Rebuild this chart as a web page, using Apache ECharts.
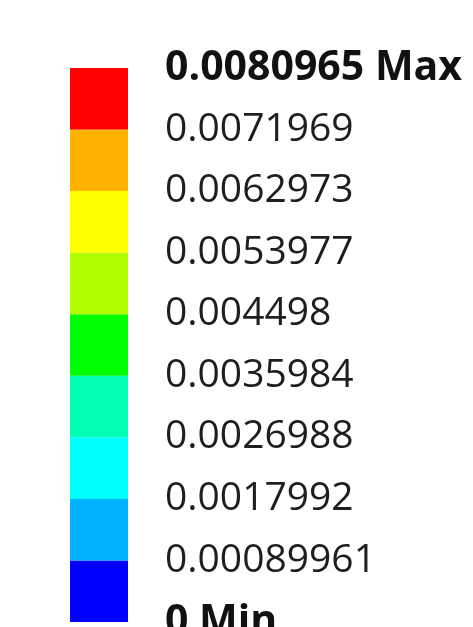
<!DOCTYPE html>
<html>
<head>
<meta charset="utf-8">
<script src="https://cdn.jsdelivr.net/npm/echarts@6/dist/echarts.min.js"></script>
<style>
  * { margin: 0; padding: 0; }
  html, body { width: 473px; height: 627px; background: #fff; }
  #legend { width: 473px; height: 627px; }
</style>
</head>
<body>
<div id="legend"></div>
<script>
// contour levels, bottom (Min) to top (Max)
var levels = [0, 0.00089961, 0.0017992, 0.0026988, 0.0035984, 0.004498,
  0.0053977, 0.0062973, 0.0071969, 0.0080965];
var tickLabels = ['0 Min', '0.00089961', '0.0017992', '0.0026988', '0.0035984',
  '0.004498', '0.0053977', '0.0062973', '0.0071969', '0.0080965 Max'];
// band colours, bottom to top
var bandColors = ['#0000ff', '#00b2ff', '#00ffff', '#00ffb2', '#00ff00',
  '#b2ff00', '#ffff00', '#ffb200', '#ff0000'];

var chart = echarts.init(document.getElementById('legend'));

// one stacked bar per band, height = upper level - lower level
var series = [];
for (var i = 0; i < bandColors.length; i++) {
  series.push({
    type: 'bar',
    stack: 'bands',
    barWidth: '100%',
    silent: true,
    itemStyle: { color: bandColors[i] },
    data: [levels[i + 1] - levels[i]]
  });
}

var maxVal = levels[levels.length - 1];

function labelFor(value) {
  // find the level this tick sits on
  for (var k = 0; k < levels.length; k++) {
    if (Math.abs(levels[k] - value) < maxVal * 1e-4) {
      var t = tickLabels[k];
      if (k === 0 || k === levels.length - 1) return '{b|' + t + '}';
      return t;
    }
  }
  return '';
}

chart.setOption({
  animation: false,
  grid: { left: 70, top: 68, width: 58, bottom: 5, outerBoundsMode: 'none', containLabel: false },
  xAxis: {
    type: 'category',
    data: ['legend'],
    show: false,
    boundaryGap: true
  },
  yAxis: {
    type: 'value',
    position: 'right',
    min: 0,
    max: maxVal,
    interval: maxVal / 9,
    axisLine: { show: false },
    axisTick: { show: false },
    splitLine: { show: false },
    axisLabel: {
      margin: 37,
      align: 'left',
      color: '#1e1e1e',
      fontFamily: 'Open Sans',
      fontSize: 39,
      formatter: labelFor,
      rich: {
        b: { fontFamily: 'Open Sans', fontWeight: 'bold', fontSize: 41, color: '#111' }
      }
    }
  },
  series: series
});
</script>
</body>
</html>
